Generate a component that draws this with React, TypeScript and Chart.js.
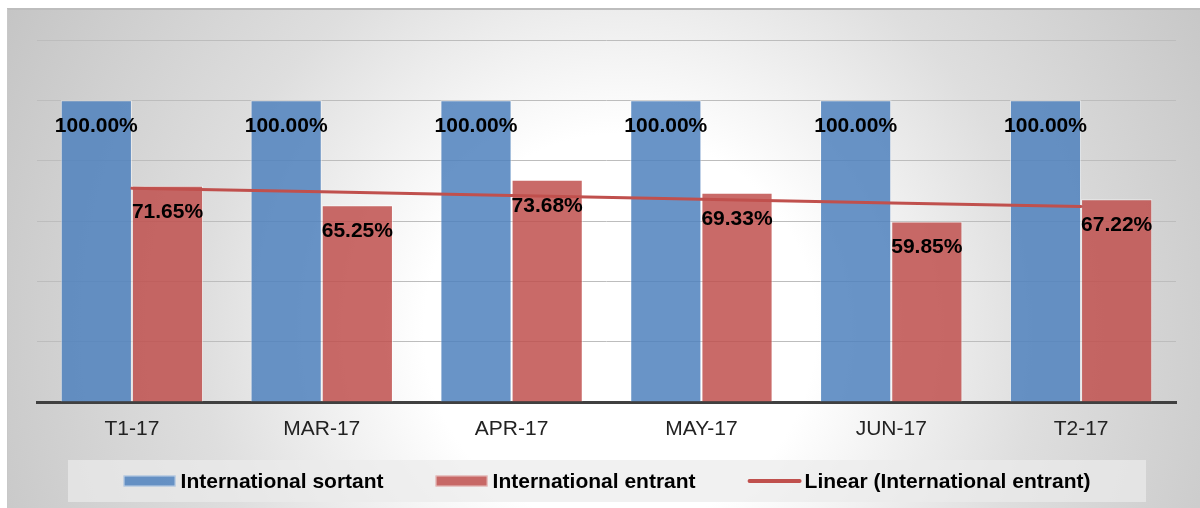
import React, { useEffect, useRef } from "react";
import { Chart, registerables } from "chart.js";

Chart.register(...registerables);

// Categories and series values
const categories = ["T1-17", "MAR-17", "APR-17", "MAY-17", "JUN-17", "T2-17"];
const sortantValues = [100, 100, 100, 100, 100, 100];
const entrantValues = [71.65, 65.25, 73.68, 69.33, 59.85, 67.22];
const seriesNames = [
  "International sortant",
  "International entrant",
  "Linear (International entrant)",
];
// Value axis: 0..120 with a gridline every 20
const yMin = 0;
const yMax = 120;
const yStep = 20;

const BLUE = "rgba(79,129,189,0.85)";
const RED = "rgba(192,80,77,0.85)";
const TREND = "#C0504D";
const FONT = "'Liberation Sans', Arial, sans-serif";

// Least-squares linear trend of a series (x = 1..n)
function linearTrend(values: number[]): number[] {
  const n = values.length;
  const xs = values.map((_, i) => i + 1);
  const mx = xs.reduce((a, b) => a + b, 0) / n;
  const my = values.reduce((a, b) => a + b, 0) / n;
  let sxy = 0;
  let sxx = 0;
  for (let i = 0; i < n; i++) {
    sxy += (xs[i] - mx) * (values[i] - my);
    sxx += (xs[i] - mx) * (xs[i] - mx);
  }
  const slope = sxy / sxx;
  return xs.map((x) => my + slope * (x - mx));
}

const backdropPlugin = {
  id: "backdrop",
  beforeDraw(chart: any) {
    const { ctx, width, height } = chart;
    ctx.save();
    ctx.fillStyle = "#ffffff";
    ctx.fillRect(0, 0, width, height);
    const g = ctx.createRadialGradient(620, 330, 0, 620, 330, 700);
    g.addColorStop(0, "#ffffff");
    g.addColorStop(0.28, "#ffffff");
    g.addColorStop(0.6, "#dedede");
    g.addColorStop(1, "#c4c4c4");
    ctx.fillStyle = g;
    ctx.fillRect(7, 9, width - 7, height - 9);
    ctx.strokeStyle = "#bdbdbd";
    ctx.lineWidth = 2;
    ctx.beginPath();
    ctx.moveTo(7, 9);
    ctx.lineTo(width, 9);
    ctx.stroke();
    ctx.lineWidth = 1;
    ctx.strokeStyle = "#c8c8c8";
    ctx.beginPath();
    ctx.moveTo(7.5, 9);
    ctx.lineTo(7.5, height);
    ctx.stroke();
    ctx.restore();
  },
};

const valueLabelPlugin = {
  id: "valueLabels",
  afterDatasetsDraw(chart: any) {
    const { ctx } = chart;
    ctx.save();
    ctx.font = `bold 21px ${FONT}`;
    ctx.fillStyle = "#000000";
    ctx.textAlign = "center";
    ctx.textBaseline = "middle";
    [0, 1].forEach((di) => {
      const meta = chart.getDatasetMeta(di);
      const data = chart.data.datasets[di].data as number[];
      meta.data.forEach((bar: any, i: number) => {
        ctx.fillText(data[i].toFixed(2) + "%", bar.x, bar.y + 26);
      });
    });
    ctx.restore();
  },
};

const legendPlugin = {
  id: "boxLegend",
  afterDraw(chart: any) {
    const { ctx } = chart;
    const box = { x: 68, y: 460, w: 1078, h: 42 };
    const cy = box.y + box.h / 2;
    const swatchW = 52;
    const gapText = 5;
    const gapItem = 52;
    ctx.save();
    ctx.fillStyle = "rgba(235,235,235,0.7)";
    ctx.fillRect(box.x, box.y, box.w, box.h);
    ctx.font = `bold 21px ${FONT}`;
    ctx.textBaseline = "middle";
    ctx.textAlign = "left";
    const widths = seriesNames.map((t) => ctx.measureText(t).width);
    const total =
      widths.reduce((a, b) => a + b, 0) +
      seriesNames.length * (swatchW + gapText) +
      (seriesNames.length - 1) * gapItem;
    let x = box.x + (box.w - total) / 2;
    seriesNames.forEach((name, i) => {
      if (i < 2) {
        ctx.fillStyle = i === 0 ? BLUE : RED;
        ctx.fillRect(x, cy - 5.5, swatchW, 11);
        ctx.strokeStyle = "rgba(255,255,255,0.6)";
        ctx.lineWidth = 1;
        ctx.strokeRect(x + 0.5, cy - 5, swatchW - 1, 10);
      } else {
        ctx.strokeStyle = TREND;
        ctx.lineWidth = 4;
        ctx.lineCap = "round";
        ctx.beginPath();
        ctx.moveTo(x + 2, cy);
        ctx.lineTo(x + swatchW, cy);
        ctx.stroke();
      }
      x += swatchW + gapText;
      ctx.fillStyle = "#000000";
      ctx.fillText(name, x, cy + 1);
      x += widths[i] + gapItem;
    });
    ctx.restore();
  },
};

export default function App() {
  const canvasRef = useRef<HTMLCanvasElement | null>(null);

  useEffect(() => {
    if (!canvasRef.current) return;
    const chart = new Chart(canvasRef.current, {
      type: "bar",
      data: {
        labels: categories,
        datasets: [
          {
            type: "bar",
            label: seriesNames[0],
            data: sortantValues,
            backgroundColor: BLUE,
            borderColor: "rgba(255,255,255,0.55)",
            borderWidth: 1,
            order: 1,
          },
          {
            type: "bar",
            label: seriesNames[1],
            data: entrantValues,
            backgroundColor: RED,
            borderColor: "rgba(255,255,255,0.55)",
            borderWidth: 1,
            order: 1,
          },
          {
            type: "line",
            label: seriesNames[2],
            data: linearTrend(entrantValues),
            borderColor: TREND,
            borderWidth: 3,
            borderCapStyle: "round",
            pointRadius: 0,
            fill: false,
            order: 0,
          } as any,
        ],
      },
      options: {
        responsive: false,
        animation: false,
        devicePixelRatio: 1,
        layout: { padding: { left: 37, right: 24, top: 40, bottom: 56 } },
        datasets: {
          bar: { categoryPercentage: 0.75, barPercentage: 1 },
        },
        scales: {
          x: {
            grid: { display: true, drawOnChartArea: false, drawTicks: false },
            border: { display: true, color: "#404040", width: 3 },
            ticks: {
              color: "#222222",
              padding: 15,
              font: { family: FONT, size: 21 },
            },
            afterFit: (scale: any) => {
              scale.height = 50;
            },
          },
          y: {
            min: yMin,
            max: yMax,
            ticks: { display: false, stepSize: yStep },
            grid: { color: "#bdbdbd", lineWidth: 1, drawTicks: false },
            border: { display: false },
            afterFit: (scale: any) => {
              scale.width = 0;
            },
          },
        },
        plugins: {
          legend: { display: false },
          tooltip: { enabled: false },
        },
      },
      plugins: [backdropPlugin, valueLabelPlugin, legendPlugin],
    });
    return () => chart.destroy();
  }, []);

  return (
    <div style={{ position: "fixed", left: 0, top: 0, width: 1200, height: 508 }}>
      <canvas ref={canvasRef} width={1200} height={508} style={{ display: "block" }} />
    </div>
  );
}
